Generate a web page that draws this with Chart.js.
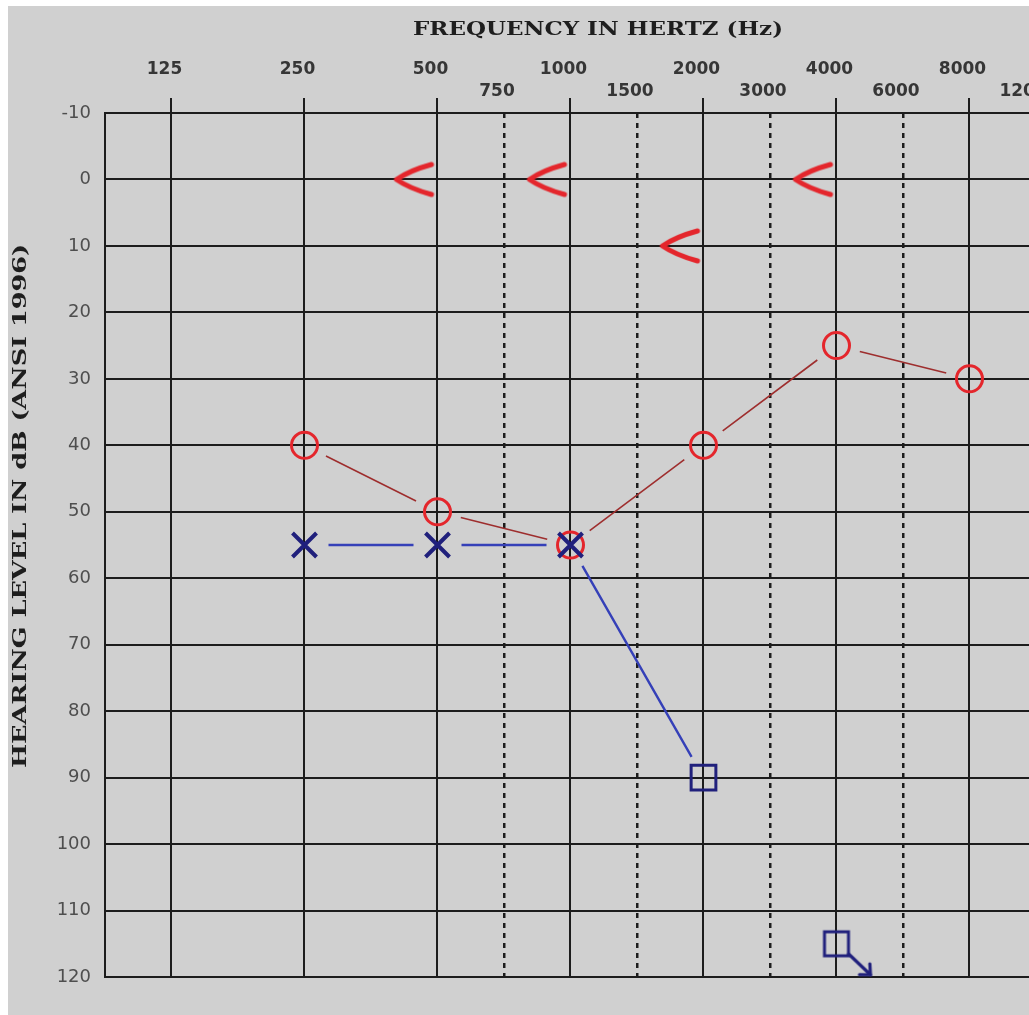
<!DOCTYPE html>
<html>
<head>
<meta charset="utf-8">
<title>Audiogram</title>
<script src="https://cdn.jsdelivr.net/npm/chart.js@4.4.1/dist/chart.umd.min.js"></script>
<style>
  html, body { margin: 0; padding: 0; background: #ffffff; overflow: hidden; width: 1029px; height: 1015px; }
  #frame { position: absolute; left: 8px; top: 6px; width: 1049px; height: 1009px; background: #d0d0d0; }
</style>
</head>
<body>
<div id="frame"><canvas id="audiogram"></canvas></div>
<script>
// Frequency axis (Hz): octave lines labelled on the upper row,
// dashed half-octave lines labelled on the lower row
const octaveFreqs = [125, 250, 500, 1000, 2000, 4000, 8000];
const halfOctaveLabels = ['750', '1500', '3000', '6000', '12000'];
// each half-octave line sits midway (log) above an octave, starting at 500 Hz
const halfOctavePositions = octaveFreqs.slice(2).map(f => f * Math.SQRT2);
const freqMin = octaveFreqs[0] / Math.SQRT2;
const freqMax = octaveFreqs[octaveFreqs.length - 1] * Math.SQRT2;

// Hearing level axis (dB HL)
const levelMin = -10;
const levelMax = 120;
const levelStep = 10;

// Right ear, air conduction (O)
const rightAirFreqs = [250, 500, 1000, 2000, 4000, 8000];
const rightAirLevels = [40, 50, 55, 40, 25, 30];

// Right ear, bone conduction unmasked (<)
const rightBoneFreqs = [500, 1000, 2000, 4000];
const rightBoneLevels = [0, 0, 10, 0];

// Left ear, air conduction unmasked (X)
const leftAirFreqs = [250, 500, 1000];
const leftAirLevels = [55, 55, 55];

// Left ear, air conduction masked (square)
const leftMaskedFreqs = [2000];
const leftMaskedLevels = [90];

// Left ear, masked, no response (square with arrow)
const leftNoResponseFreqs = [4000];
const leftNoResponseLevels = [115];

const toPoints = (freqs, levels) => freqs.map((f, i) => ({ x: f, y: levels[i] }));

const RED = '#e4262c';
const NAVY = '#20207c';

// Bone conduction "<" symbol, drawn to the left of its frequency line
function boneSymbol() {
  const c = document.createElement('canvas');
  c.width = 100; c.height = 50;
  const g = c.getContext('2d');
  g.strokeStyle = RED;
  g.lineWidth = 5;
  g.lineCap = 'round';
  g.lineJoin = 'round';
  g.beginPath();
  g.moveTo(44, 10);
  g.quadraticCurveTo(22, 16, 9, 25);
  g.quadraticCurveTo(22, 34, 44, 40);
  g.stroke();
  return c;
}

// Masked square with a no-response arrow toward the lower right
function noResponseSymbol() {
  const c = document.createElement('canvas');
  c.width = 100; c.height = 100;
  const g = c.getContext('2d');
  const cx = 50, cy = 50, h = 12;
  g.strokeStyle = NAVY;
  g.lineWidth = 3;
  g.strokeRect(cx - h, cy - h, 2 * h, 2 * h);
  const x0 = cx + h, y0 = cy + h - 2;
  const x1 = cx + 34, y1 = cy + 31;
  g.lineWidth = 3.2;
  g.lineCap = 'round';
  g.beginPath();
  g.moveTo(x0, y0);
  g.lineTo(x1, y1);
  g.stroke();
  const ang = Math.atan2(y1 - y0, x1 - x0);
  const len = 11;
  g.beginPath();
  g.moveTo(x1 + len * Math.cos(ang + Math.PI - 0.75), y1 + len * Math.sin(ang + Math.PI - 0.75));
  g.lineTo(x1, y1);
  g.lineTo(x1 + len * Math.cos(ang + Math.PI + 0.75), y1 + len * Math.sin(ang + Math.PI + 0.75));
  g.stroke();
  return c;
}

// Connecting lines that stop short of each symbol
const traceLines = {
  id: 'traceLines',
  beforeDatasetsDraw(chart) {
    const ctx = chart.ctx;
    chart.data.datasets.forEach((ds, di) => {
      if (!ds.trace) return;
      const pts = chart.getDatasetMeta(di).data;
      const gap = ds.trace.gap;
      ctx.save();
      ctx.strokeStyle = ds.trace.color;
      ctx.lineWidth = ds.trace.width;
      ctx.beginPath();
      for (let i = 0; i < pts.length - 1; i++) {
        const p = pts[i], q = pts[i + 1];
        const dx = q.x - p.x, dy = q.y - p.y;
        const len = Math.hypot(dx, dy);
        if (len <= 2 * gap) continue;
        const ux = dx / len, uy = dy / len;
        ctx.moveTo(p.x + ux * gap, p.y + uy * gap);
        ctx.lineTo(q.x - ux * gap, q.y - uy * gap);
      }
      ctx.stroke();
      ctx.restore();
    });
  }
};

// Axis titles in a wide bold serif
const axisTitles = {
  id: 'axisTitles',
  afterDraw(chart) {
    const ctx = chart.ctx;
    const drawWide = (text, cx, cy, width, rotate) => {
      ctx.save();
      ctx.translate(cx, cy);
      if (rotate) ctx.rotate(-Math.PI / 2);
      ctx.font = 'bold 18px "DejaVu Serif"';
      const w = ctx.measureText(text).width;
      ctx.scale(width / w, 1);
      ctx.fillStyle = '#1e1e1e';
      ctx.textAlign = 'center';
      ctx.textBaseline = 'middle';
      ctx.fillText(text, 0, 0);
      ctx.restore();
    };
    drawWide('FREQUENCY IN HERTZ (Hz)', 590, 24, 370, false);
    drawWide('HEARING LEVEL IN dB (ANSI 1996)', 13, 500, 524, true);
  }
};

const GRID = '#1c1c1c';
const isOctave = v => octaveFreqs.includes(v);

new Chart(document.getElementById('audiogram'), {
  type: 'scatter',
  data: {
    datasets: [
      {
        label: 'Left AC masked, no response',
        data: toPoints(leftNoResponseFreqs, leftNoResponseLevels),
        pointStyle: noResponseSymbol(),
        pointRadius: 12,
        order: 1
      },
      {
        label: 'Left AC masked',
        data: toPoints(leftMaskedFreqs, leftMaskedLevels),
        pointStyle: 'rect',
        pointRadius: 17.5,
        borderColor: NAVY,
        borderWidth: 3,
        backgroundColor: 'transparent',
        order: 2
      },
      {
        label: 'Left AC',
        data: toPoints(leftAirFreqs, leftAirLevels),
        pointStyle: 'crossRot',
        pointRadius: 17,
        borderColor: NAVY,
        borderWidth: 4,
        order: 3
      },
      {
        label: 'Right AC',
        data: toPoints(rightAirFreqs, rightAirLevels),
        pointStyle: 'circle',
        pointRadius: 13,
        borderColor: RED,
        borderWidth: 3,
        backgroundColor: 'transparent',
        trace: { color: '#9e2e2e', width: 1.6, gap: 24 },
        order: 4
      },
      {
        label: 'Right BC',
        data: toPoints(rightBoneFreqs, rightBoneLevels),
        pointStyle: boneSymbol(),
        pointRadius: 12,
        order: 5
      },
      {
        label: 'Left AC trace',
        data: toPoints(leftAirFreqs.concat(leftMaskedFreqs), leftAirLevels.concat(leftMaskedLevels)),
        pointRadius: 0,
        trace: { color: '#3540b8', width: 2.4, gap: 24 },
        order: 6
      }
    ]
  },
  options: {
    responsive: true,
    maintainAspectRatio: false,
    animation: false,
    events: [],
    layout: { padding: { left: 0, top: 0, right: 21, bottom: 38 } },
    plugins: { legend: { display: false }, tooltip: { enabled: false } },
    scales: {
      x: {
        type: 'logarithmic',
        position: 'top',
        min: freqMin,
        max: freqMax,
        afterBuildTicks: s => {
          s.ticks = octaveFreqs.concat(halfOctavePositions)
            .sort((a, b) => a - b)
            .map(v => ({ value: v }));
        },
        afterFit: s => { s.height = 107; s.paddingLeft = 0; s.paddingRight = 0; },
        grid: {
          color: c => (c.tick && isOctave(c.tick.value) ? GRID : 'transparent'),
          tickColor: c => (c.tick && isOctave(c.tick.value) ? GRID : 'transparent'),
          lineWidth: 2,
          drawTicks: true,
          tickLength: 15
        },
        border: { display: true, color: GRID, width: 2 },
        ticks: {
          autoSkip: false,
          maxRotation: 0,
          minRotation: 0,
          padding: -5,
          labelOffset: -7,
          color: '#363636',
          font: { family: '"DejaVu Sans"', size: 17, weight: 'bold', lineHeight: 1.3 },
          callback: v => (isOctave(v)
            ? [String(v), '']
            : ['', halfOctaveLabels[halfOctavePositions.indexOf(v)] || ''])
        }
      },
      xHalf: {
        type: 'logarithmic',
        position: 'top',
        min: freqMin,
        max: freqMax,
        afterBuildTicks: s => { s.ticks = halfOctavePositions.map(v => ({ value: v })); },
        afterFit: s => { s.height = 0; s.paddingLeft = 0; s.paddingRight = 0; },
        grid: { color: GRID, lineWidth: 2.5, drawTicks: false },
        border: { display: false, dash: [5, 5] },
        ticks: { display: false }
      },
      y: {
        type: 'linear',
        reverse: true,
        min: levelMin,
        max: levelMax,
        afterFit: s => { s.width = 97; },
        grid: { color: GRID, lineWidth: 2, drawTicks: false },
        border: { display: true, color: GRID, width: 2 },
        ticks: {
          stepSize: levelStep,
          padding: 14,
          color: '#4e4e4e',
          font: { family: '"DejaVu Sans"', size: 18 }
        }
      }
    }
  },
  plugins: [traceLines, axisTitles]
});
</script>
</body>
</html>
